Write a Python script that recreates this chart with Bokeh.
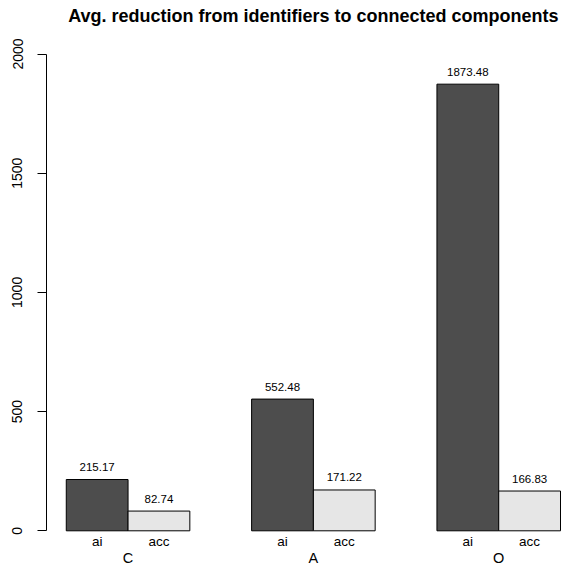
from bokeh.plotting import figure
from bokeh.models import LinearAxis, FixedTicker, Range1d, ColumnDataSource
from bokeh.core.properties import value
from bokeh.embed import file_html
from bokeh.resources import INLINE

# ---- data ----
groups = ["C", "A", "O"]
series = ["ai", "acc"]
ai_values = [215.17, 552.48, 1873.48]
acc_values = [82.74, 171.22, 166.83]
y_ticks = [0, 500, 1000, 1500, 2000]
title_text = "Avg. reduction from identifiers to connected components"

FONT = "Liberation Sans"
W, H = 561, 567
LEFT = 46                     # frame left (figure px)
UNIT = 61.78                  # px per bar-width unit
PPU = 0.2384                  # px per y unit
ZERO_PX = 530.3               # picture y of value 0

x_start = 0.68
x_end = x_start + (W - LEFT) / UNIT
y_end = ZERO_PX / PPU
y_start = -(H - ZERO_PX) / PPU


def ydata(px):
    """picture pixel y -> data y"""
    return (ZERO_PX - px) / PPU


p = figure(width=W, height=H, output_backend="svg", toolbar_location=None,
           x_range=Range1d(x_start, x_end), y_range=Range1d(y_start, y_end),
           x_axis_type=None, y_axis_type=None,
           min_border_left=LEFT, min_border_right=0,
           min_border_top=0, min_border_bottom=0)
p.outline_line_color = None
p.background_fill_color = "white"
p.border_fill_color = "white"

# bars
x_ai, x_acc, names_x, names_t, grp_x = [], [], [], [], []
for i, g in enumerate(groups):
    base = 1 + 3 * i
    x_ai.append(base + 0.5)
    x_acc.append(base + 1.5)
    names_x += [base + 0.5, base + 1.5]
    names_t += series
    grp_x.append(base + 1.0)

src_ai = ColumnDataSource(dict(x=x_ai, top=ai_values,
                               lab=[f"{v:.2f}" for v in ai_values]))
src_acc = ColumnDataSource(dict(x=x_acc, top=acc_values,
                                lab=[f"{v:.2f}" for v in acc_values]))

p.vbar(x="x", top="top", bottom=0, width=1.0, source=src_ai,
       fill_color="#4D4D4D", line_color="black", line_width=1)
p.vbar(x="x", top="top", bottom=0, width=1.0, source=src_acc,
       fill_color="#E6E6E6", line_color="black", line_width=1)

for src in (src_ai, src_acc):
    p.text(x="x", y="top", text="lab", source=src, text_align="center",
           text_baseline="middle", y_offset=-12.5,
           text_font=value(FONT), text_font_size="11.5px", text_color="black")

# category names
p.text(x=names_x, y=[ydata(541)] * len(names_x), text=names_t,
       text_align="center", text_baseline="middle",
       text_font=value(FONT), text_font_size="13.5px", text_color="black")
p.text(x=grp_x, y=[ydata(557.5)] * len(grp_x), text=groups,
       text_align="center", text_baseline="middle",
       text_font=value(FONT), text_font_size="14.5px", text_color="black")

# title
p.text(x=[(x_start + 9.32) / 2], y=[ydata(15.5)], text=[title_text],
       text_align="center", text_baseline="middle",
       text_font=value(FONT), text_font_size="18px", text_font_style="bold",
       text_color="black")

# y axis
yax = LinearAxis(ticker=FixedTicker(ticks=y_ticks), bounds=(0, 2000))
yax.axis_line_color = "black"
yax.axis_line_width = 1
yax.major_tick_in = 0
yax.major_tick_out = 9
yax.major_tick_line_color = "black"
yax.minor_tick_line_color = None
yax.major_label_orientation = "vertical"
yax.major_label_standoff = 15
yax.major_label_text_font = FONT
yax.major_label_text_font_size = "14px"
yax.major_label_text_color = "black"
p.add_layout(yax, "left")

open("out.html", "w").write(file_html(p, INLINE))
